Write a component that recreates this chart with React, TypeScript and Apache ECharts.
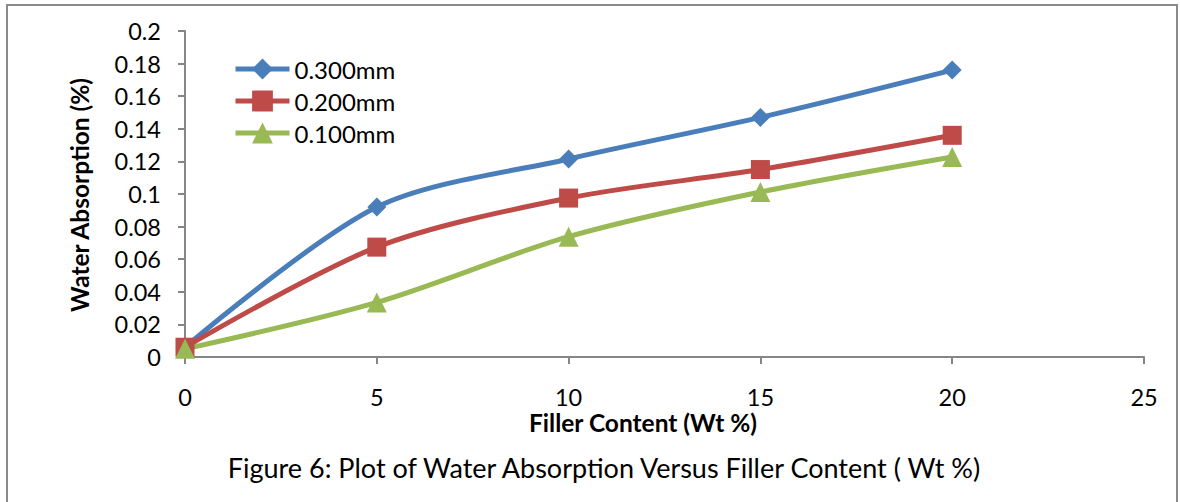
import React, { useEffect, useRef } from "react";
import * as echarts from "echarts";

const xValues = [0, 5, 10, 15, 20];
const seriesNames = ["0.300mm", "0.200mm", "0.100mm"];
const s300 = [0.006, 0.092, 0.1215, 0.147, 0.176];
const s200 = [0.006, 0.0674, 0.0975, 0.115, 0.136];
const s100 = [0.005, 0.0335, 0.0738, 0.1012, 0.1227];
const colors = ["#4A7EBB", "#BE4B48", "#98B954"];
const symbols = ["diamond", "rect", "triangle"];
const symbolSizes = [19, 19, 20];
const xTitle = "Filler Content (Wt %)";
const yTitle = "Water Absorption (%)";
const caption = "Figure 6: Plot of Water Absorption Versus Filler Content ( Wt %)";

const FONT = "Lato, 'Open Sans', sans-serif";

export default function App() {
  const ref = useRef<HTMLDivElement>(null);
  useEffect(() => {
    if (!ref.current) return;
    const chart = echarts.init(ref.current, undefined, { renderer: "svg" });
    const all = [s300, s200, s100];
    chart.setOption({
      animation: false,
      backgroundColor: "#ffffff",
      textStyle: { fontFamily: FONT },
      grid: { left: 185, right: 36, top: 31, bottom: 145, containLabel: false },
      legend: {
        orient: "vertical",
        left: 228,
        top: 52,
        itemWidth: 54,
        itemHeight: 26,
        itemGap: 8,
        lineStyle: { width: 5 },
        textStyle: { fontSize: 24, color: "#000", fontFamily: FONT },
        data: seriesNames,
      },
      xAxis: {
        type: "value",
        min: 0,
        max: 25,
        interval: 5,
        axisLine: { lineStyle: { color: "#868686", width: 2 } },
        axisTick: { show: true, length: 7, lineStyle: { color: "#868686", width: 2 } },
        axisLabel: { fontSize: 23.5, color: "#000", margin: 28, fontFamily: FONT },
        splitLine: { show: false },
      },
      yAxis: {
        type: "value",
        min: 0,
        max: 0.2,
        interval: 0.02,
        axisLine: { show: true, lineStyle: { color: "#868686", width: 2 } },
        axisTick: { show: true, length: 7, lineStyle: { color: "#868686", width: 2 } },
        axisLabel: { fontSize: 23.5, color: "#000", margin: 24, fontFamily: FONT },
        splitLine: { show: false },
      },
      series: all.map((d, i) => ({
        name: seriesNames[i],
        type: "line",
        smooth: 0.3,
        data: d.map((v, j) => [xValues[j], v]),
        symbol: symbols[i],
        symbolSize: symbolSizes[i],
        showAllSymbol: true,
        lineStyle: { color: colors[i], width: 5 },
        itemStyle: { color: colors[i] },
      })),
      graphic: [
        {
          type: "rect",
          shape: { x: 7, y: 5, width: 1170, height: 520 },
          style: { fill: "none", stroke: "#8a8a8a", lineWidth: 2 },
          silent: true,
          z: -1,
        },
        {
          type: "text",
          x: 643,
          y: 422,
          style: {
            text: xTitle,
            fontSize: 24.5,
            fontWeight: "bold",
            fill: "#000",
            fontFamily: FONT,
            textAlign: "center",
            textVerticalAlign: "middle",
          },
        },
        {
          type: "text",
          x: 79,
          y: 195,
          rotation: Math.PI / 2,
          style: {
            text: yTitle,
            fontSize: 24.5,
            fontWeight: "bold",
            fill: "#000",
            fontFamily: FONT,
            textAlign: "center",
            textVerticalAlign: "middle",
          },
        },
        {
          type: "text",
          x: 604,
          y: 467,
          style: {
            text: caption,
            fontSize: 27,
            fill: "#000",
            fontFamily: FONT,
            textAlign: "center",
            textVerticalAlign: "middle",
          },
        },
      ],
    });
    return () => chart.dispose();
  }, []);
  return (
    <div
      ref={ref}
      style={{ position: "fixed", left: 0, top: 0, width: 1180, height: 502 }}
    />
  );
}
